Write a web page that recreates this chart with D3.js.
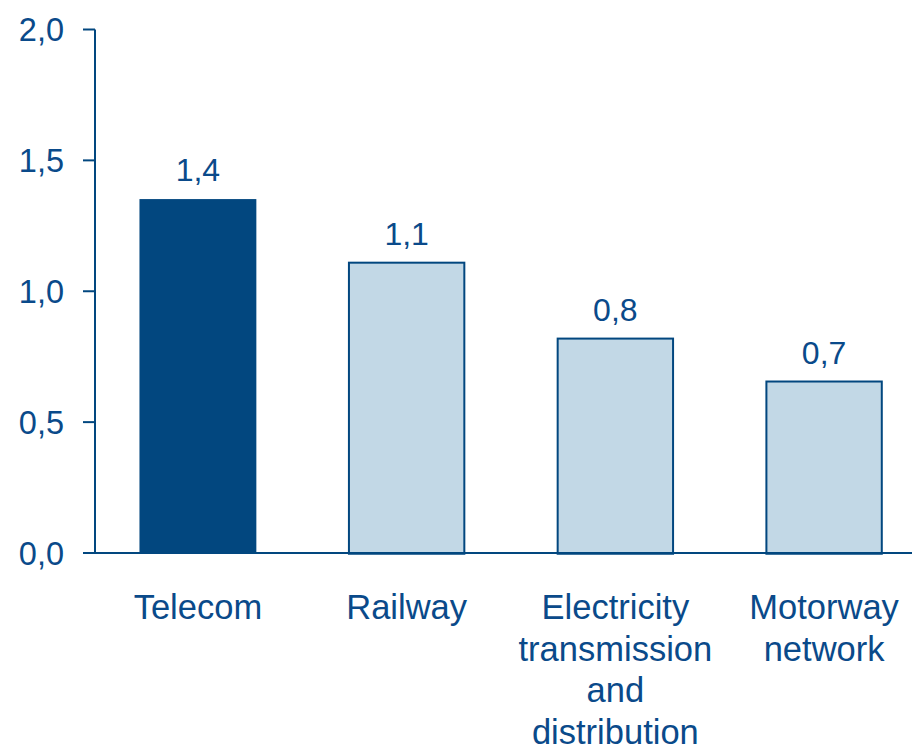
<!DOCTYPE html>
<html><head><meta charset="utf-8">
<script src="https://cdn.jsdelivr.net/npm/d3@7"></script>
<style>body{margin:0;background:#fff}svg{display:block}text{font-family:Arial,"Liberation Sans",sans-serif}</style>
</head><body>
<svg id="c" width="912" height="746"></svg>
<script>
const categories = [["Telecom"],["Railway"],["Electricity","transmission","and","distribution"],["Motorway","network"]];
const values = [1.355, 1.112, 0.822, 0.658];
const valueLabels = ["1,4","1,1","0,8","0,7"];
const highlight = [true,false,false,false];
const yTicks = [0,0.5,1.0,1.5,2.0];
const yTickLabels = ["0,0","0,5","1,0","1,5","2,0"];

const dark = "#02477F", light = "#C2D8E6", txt = "#0A4A8A";
const svg = d3.select("#c");
const y = d3.scaleLinear().domain([0,2]).range([553,29.5]);
const x = d3.scaleBand().domain(d3.range(categories.length)).range([95,927]).paddingInner(0.44).paddingOuter(0.213);

// y axis
svg.append("line").attr("x1",95).attr("x2",95).attr("y1",y(2)).attr("y2",y(0)).attr("stroke",dark).attr("stroke-width",2);
svg.selectAll(".yt").data(yTicks).join("line").attr("x1",83).attr("x2",95).attr("y1",d=>y(d)).attr("y2",d=>y(d)).attr("stroke",dark).attr("stroke-width",2);
svg.selectAll(".yl").data(yTicks).join("text").attr("x",64).attr("y",d=>y(d)).attr("dy","0.36em")
  .attr("text-anchor","end").attr("font-size",32.5).attr("fill",txt).text((d,i)=>yTickLabels[i]);

// bars
svg.selectAll(".bar").data(values).join("rect")
  .attr("x",(d,i)=>x(i)+(highlight[i]?0:0.75)).attr("width",(d,i)=>x.bandwidth()-(highlight[i]?0:1.5))
  .attr("y",d=>y(d)+(0.75)).attr("height",d=>y(0)-y(d))
  .attr("fill",(d,i)=>highlight[i]?dark:light)
  .attr("stroke",(d,i)=>highlight[i]?"none":dark).attr("stroke-width",2);

// x axis baseline
svg.append("line").attr("x1",83).attr("x2",912).attr("y1",y(0)).attr("y2",y(0)).attr("stroke",dark).attr("stroke-width",2);

// value labels
svg.selectAll(".vl").data(values).join("text").attr("x",(d,i)=>x(i)+x.bandwidth()/2).attr("y",d=>y(d)-17)
  .attr("text-anchor","middle").attr("font-size",32).attr("fill",txt).text((d,i)=>valueLabels[i]);

// category labels
categories.forEach((lines,i)=>{
  const t = svg.append("text").attr("x",x(i)+x.bandwidth()/2).attr("y",619).attr("text-anchor","middle").attr("font-size",34.5).attr("fill",txt);
  lines.forEach((l,j)=>t.append("tspan").attr("x",x(i)+x.bandwidth()/2).attr("y",619+j*41.5).text(l));
});
</script>
</body></html>
